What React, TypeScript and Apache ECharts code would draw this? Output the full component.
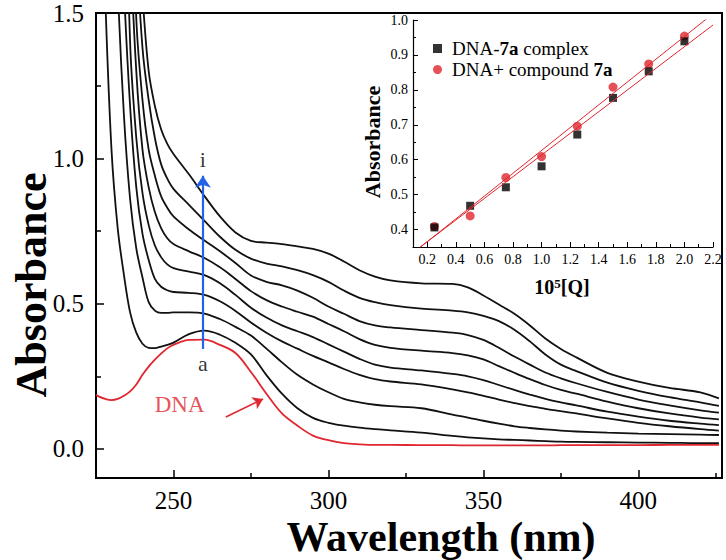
import React, { useEffect, useRef } from 'react';
import * as echarts from 'echarts';

// ---- main spectra (wavelength grid, nm) ----
const WAVELENGTH = [225, 226, 228, 230, 232, 234, 236, 238, 240, 242, 244, 246, 248, 250, 255, 260, 265, 270, 275, 280, 285, 290, 295, 300, 305, 310, 315, 320, 330, 340, 345, 350, 355, 360, 365, 370, 375, 380, 390, 400, 410, 420, 426];

const DNA = [0.186, 0.18, 0.172, 0.168, 0.172, 0.183, 0.198, 0.222, 0.255, 0.283, 0.307, 0.328, 0.346, 0.358, 0.375, 0.376, 0.358, 0.33, 0.265, 0.19, 0.122, 0.08, 0.046, 0.03, 0.02, 0.016, 0.014, 0.014, 0.013, 0.013, 0.012, 0.012, 0.012, 0.012, 0.012, 0.012, 0.013, 0.013, 0.013, 0.013, 0.014, 0.014, 0.014];
const CURVE_B = [null, 2.3, 1.55, 1.03, 0.76, 0.6, 0.47, 0.4, 0.362, 0.348, 0.347, 0.352, 0.358, 0.366, 0.395, 0.407, 0.393, 0.365, 0.325, 0.254, 0.19, 0.14, 0.107, 0.09, 0.08, 0.073, 0.068, 0.064, 0.056, 0.045, 0.04, 0.036, 0.033, 0.031, 0.029, 0.027, 0.025, 0.024, 0.023, 0.022, 0.021, 0.02, 0.02];
const CURVE_C = [null, null, null, 2.3, 1.6, 1.15, 0.86, 0.69, 0.59, 0.505, 0.476, 0.468, 0.468, 0.47, 0.47, 0.466, 0.447, 0.42, 0.39, 0.345, 0.298, 0.255, 0.222, 0.195, 0.172, 0.16, 0.152, 0.147, 0.14, 0.118, 0.108, 0.097, 0.087, 0.078, 0.072, 0.067, 0.063, 0.06, 0.056, 0.053, 0.051, 0.049, 0.048];
const CURVE_D = [null, null, null, null, 2.3, 1.6, 1.18, 0.9, 0.74, 0.65, 0.585, 0.558, 0.546, 0.54, 0.537, 0.53, 0.508, 0.475, 0.435, 0.4, 0.37, 0.345, 0.32, 0.298, 0.275, 0.255, 0.24, 0.232, 0.222, 0.205, 0.195, 0.183, 0.17, 0.158, 0.147, 0.138, 0.13, 0.122, 0.105, 0.09, 0.078, 0.068, 0.063];
const CURVE_E = [null, null, null, null, null, 2.3, 1.4, 1.07, 0.88, 0.77, 0.7, 0.66, 0.635, 0.622, 0.61, 0.598, 0.57, 0.53, 0.486, 0.452, 0.425, 0.405, 0.385, 0.36, 0.335, 0.31, 0.29, 0.28, 0.27, 0.258, 0.25, 0.237, 0.22, 0.203, 0.187, 0.172, 0.16, 0.15, 0.128, 0.111, 0.097, 0.087, 0.082];
const CURVE_F = [null, null, null, null, null, 2.4, 1.75, 1.3, 1.03, 0.9, 0.815, 0.76, 0.725, 0.705, 0.68, 0.657, 0.625, 0.585, 0.543, 0.512, 0.49, 0.472, 0.455, 0.43, 0.405, 0.378, 0.358, 0.348, 0.338, 0.33, 0.322, 0.308, 0.285, 0.262, 0.24, 0.22, 0.203, 0.19, 0.163, 0.14, 0.122, 0.108, 0.102];
const CURVE_G = [null, null, null, null, null, null, 2.2, 1.48, 1.2, 1.03, 0.94, 0.87, 0.83, 0.8, 0.755, 0.717, 0.68, 0.64, 0.597, 0.575, 0.563, 0.545, 0.52, 0.49, 0.465, 0.44, 0.425, 0.418, 0.409, 0.4, 0.392, 0.375, 0.348, 0.318, 0.29, 0.263, 0.243, 0.226, 0.196, 0.17, 0.15, 0.133, 0.125];
const CURVE_H = [null, null, null, null, null, null, 2.4, 1.75, 1.38, 1.2, 1.07, 0.98, 0.93, 0.895, 0.84, 0.785, 0.73, 0.685, 0.655, 0.638, 0.628, 0.615, 0.598, 0.575, 0.545, 0.52, 0.505, 0.495, 0.483, 0.476, 0.47, 0.458, 0.44, 0.41, 0.37, 0.325, 0.29, 0.268, 0.228, 0.2, 0.178, 0.16, 0.148];
const CURVE_I = [null, null, null, null, null, null, null, 1.9, 1.56, 1.3, 1.18, 1.1, 1.05, 1.015, 0.945, 0.87, 0.8, 0.745, 0.716, 0.71, 0.705, 0.697, 0.688, 0.672, 0.645, 0.615, 0.593, 0.58, 0.57, 0.568, 0.556, 0.528, 0.497, 0.465, 0.425, 0.38, 0.344, 0.315, 0.262, 0.232, 0.21, 0.195, 0.174];
const BLACK_CURVES = [CURVE_B, CURVE_C, CURVE_D, CURVE_E, CURVE_F, CURVE_G, CURVE_H, CURVE_I];

// main axis ticks
const X_MAJOR = [250, 300, 350, 400];
const X_MINOR = [275, 325, 375, 425];
const Y_MAJOR = [0, 0.5, 1.0, 1.5];
const Y_MINOR = [0.25, 0.75, 1.25];

// annotations (data coordinates)
const ARROW_BLUE = [[259.5, 0.344], [259.5, 0.94]];
const ARROW_RED = [[266.9, 0.11], [278.9, 0.172]];
const LABELS = [
  { text: 'i', at: [259.5, 0.995], color: '#000' },
  { text: 'a', at: [259.5, 0.293], color: '#000' },
  { text: 'DNA', at: [252.0, 0.152], color: '#e0262e' },
];

// ---- inset ----
const Q = [0.25, 0.5, 0.75, 1.0, 1.25, 1.5, 1.75, 2.0];
const COMPLEX_7A = [0.406, 0.468, 0.521, 0.581, 0.672, 0.777, 0.853, 0.939];
const COMPOUND_7A = [0.409, 0.439, 0.549, 0.609, 0.696, 0.808, 0.874, 0.954];
const INSET_X_MAJOR = [0.2, 0.4, 0.6, 0.8, 1.0, 1.2, 1.4, 1.6, 1.8, 2.0, 2.2];
const INSET_X_MINOR = [0.3, 0.5, 0.7, 0.9, 1.1, 1.3, 1.5, 1.7, 1.9, 2.1];
const INSET_Y_MAJOR = [0.4, 0.5, 0.6, 0.7, 0.8, 0.9, 1.0];
const INSET_Y_MINOR = [0.45, 0.55, 0.65, 0.75, 0.85, 0.95];
const FIT_RANGE = [0.15, 2.2];

const SERIF = '"Liberation Serif", "Times New Roman", serif';
const RED = '#e0262e';
const BLUE = '#2462e6';

function linFit(xs: number[], ys: number[]) {
  const n = xs.length;
  const mx = xs.reduce((a, b) => a + b, 0) / n;
  const my = ys.reduce((a, b) => a + b, 0) / n;
  let sxy = 0, sxx = 0;
  for (let k = 0; k < n; k++) {
    sxy += (xs[k] - mx) * (ys[k] - my);
    sxx += (xs[k] - mx) * (xs[k] - mx);
  }
  const slope = sxy / sxx;
  const icpt = my - slope * mx;
  return FIT_RANGE.map((x) => [x, icpt + slope * x]);
}

export default function App() {
  const ref = useRef<HTMLDivElement>(null);
  useEffect(() => {
    const chart = echarts.init(ref.current as HTMLDivElement, null, { renderer: 'svg' });
    const pairs = (ys: (number | null)[]) =>
      WAVELENGTH.map((w, k) => [w, ys[k]]).filter((p) => p[1] !== null);

    const mainLine = (ys: (number | null)[], color: string, name: string) => ({
      type: 'line',
      name,
      xAxisIndex: 0,
      yAxisIndex: 0,
      data: pairs(ys),
      showSymbol: false,
      symbol: 'none',
      smooth: 0.35,
      lineStyle: { color, width: 1.8 },
      clip: true,
      silent: true,
    });

    const common = { splitLine: { show: false } };
    const line = (show: boolean, width: number) => ({ show, onZero: false, lineStyle: { color: '#000', width } });
    const tick = (length: number, values: number[], width: number) => ({
      show: true, inside: true, length, customValues: values, lineStyle: { color: '#000', width },
    });

    const option: any = {
      animation: false,
      backgroundColor: '#fff',
      grid: [
        { left: 96, top: 13, width: 626, height: 465, show: true, borderColor: '#000', borderWidth: 2, containLabel: false },
        { left: 413, top: 20, width: 300, height: 227, show: false, containLabel: false },
      ],
      xAxis: [
        {
          ...common, gridIndex: 0, type: 'value', min: 225, max: 427, position: 'bottom',
          axisLine: line(true, 2), axisTick: tick(8, X_MAJOR, 1.5),
          axisLabel: { customValues: X_MAJOR, fontSize: 25, fontFamily: SERIF, color: '#000', margin: 10 },
        },
        {
          ...common, gridIndex: 0, type: 'value', min: 225, max: 427, position: 'bottom',
          axisLine: line(false, 1), axisTick: tick(5, X_MINOR, 1.5), axisLabel: { show: false },
        },
        {
          ...common, gridIndex: 1, type: 'value', min: 0.1, max: 2.2, position: 'bottom',
          axisLine: line(true, 1.2), axisTick: tick(5, INSET_X_MAJOR, 1),
          axisLabel: { customValues: INSET_X_MAJOR, fontSize: 14, fontFamily: SERIF, color: '#000', margin: 5, formatter: (v: number) => v.toFixed(1) },
        },
        {
          ...common, gridIndex: 1, type: 'value', min: 0.1, max: 2.2, position: 'bottom',
          axisLine: line(false, 1), axisTick: tick(3, INSET_X_MINOR, 1), axisLabel: { show: false },
        },
      ],
      yAxis: [
        {
          ...common, gridIndex: 0, type: 'value', min: -0.1, max: 1.5, position: 'left',
          axisLine: line(true, 2), axisTick: tick(8, Y_MAJOR, 1.5),
          axisLabel: { customValues: Y_MAJOR, fontSize: 25, fontFamily: SERIF, color: '#000', margin: 12, formatter: (v: number) => v.toFixed(1) },
        },
        {
          ...common, gridIndex: 0, type: 'value', min: -0.1, max: 1.5, position: 'left',
          axisLine: line(false, 1), axisTick: tick(5, Y_MINOR, 1.5), axisLabel: { show: false },
        },
        {
          ...common, gridIndex: 1, type: 'value', min: 0.35, max: 1.0, position: 'left',
          axisLine: line(true, 1.2), axisTick: tick(5, INSET_Y_MAJOR, 1),
          axisLabel: { customValues: INSET_Y_MAJOR, fontSize: 14, fontFamily: SERIF, color: '#000', margin: 5, formatter: (v: number) => v.toFixed(1) },
        },
        {
          ...common, gridIndex: 1, type: 'value', min: 0.35, max: 1.0, position: 'left',
          axisLine: line(false, 1), axisTick: tick(3, INSET_Y_MINOR, 1), axisLabel: { show: false },
        },
      ],
      legend: {
        show: true,
        data: ['DNA-7a complex', 'DNA+ compound 7a'],
        orient: 'vertical',
        left: 428,
        top: 34,
        itemGap: 2,
        itemWidth: 9,
        itemHeight: 9,
        selectedMode: false,
        formatter: (name: string) =>
          name === 'DNA-7a complex' ? '{n|DNA-}{b|7a}{n| complex}' : '{n|DNA+ compound }{b|7a}',
        textStyle: {
          fontFamily: SERIF,
          fontSize: 19,
          color: '#000',
          padding: [0, 0, 0, 5],
          rich: {
            n: { fontFamily: SERIF, fontSize: 19, color: '#000' },
            b: { fontFamily: SERIF, fontSize: 19, fontWeight: 'bold', color: '#000' },
          },
        },
      },
      series: [
        mainLine(DNA, RED, 'DNA spectrum'),
        ...BLACK_CURVES.map((c, k) => mainLine(c, '#111', 'curve ' + 'bcdefghi'[k])),
        {
          type: 'line', name: 'blue arrow', xAxisIndex: 0, yAxisIndex: 0, data: [], silent: true,
          markLine: {
            silent: true, symbol: ['none', 'arrow'], symbolSize: 12, label: { show: false },
            lineStyle: { color: BLUE, width: 2.2, type: 'solid' },
            data: [[{ coord: ARROW_BLUE[0] }, { coord: ARROW_BLUE[1] }]],
          },
        },
        {
          type: 'line', name: 'red arrow', xAxisIndex: 0, yAxisIndex: 0, data: [], silent: true,
          markLine: {
            silent: true, symbol: ['none', 'arrow'], symbolSize: 10, label: { show: false },
            lineStyle: { color: RED, width: 1.6, type: 'solid' },
            data: [[{ coord: ARROW_RED[0] }, { coord: ARROW_RED[1] }]],
          },
        },
        {
          type: 'scatter', name: 'labels', xAxisIndex: 0, yAxisIndex: 0, symbolSize: 0, silent: true,
          data: LABELS.map((l) => ({
            value: l.at, name: l.text,
            label: { show: true, position: 'inside', formatter: l.text, color: l.color, fontSize: l.text === 'DNA' ? 23 : 22, fontFamily: SERIF },
          })),
        },
        {
          type: 'line', name: 'fit complex', xAxisIndex: 2, yAxisIndex: 2, data: linFit(Q, COMPLEX_7A),
          showSymbol: false, symbol: 'none', lineStyle: { color: RED, width: 1 }, clip: true, silent: true,
        },
        {
          type: 'line', name: 'fit compound', xAxisIndex: 2, yAxisIndex: 2, data: linFit(Q, COMPOUND_7A),
          showSymbol: false, symbol: 'none', lineStyle: { color: RED, width: 1 }, clip: true, silent: true,
        },
        {
          type: 'scatter', name: 'DNA+ compound 7a', xAxisIndex: 2, yAxisIndex: 2,
          data: Q.map((q, k) => [q, COMPOUND_7A[k]]), symbol: 'circle', symbolSize: 9,
          itemStyle: { color: RED }, silent: true,
        },
        {
          type: 'scatter', name: 'DNA-7a complex', xAxisIndex: 2, yAxisIndex: 2,
          data: Q.map((q, k) => [q, COMPLEX_7A[k]]), symbol: 'rect', symbolSize: 8,
          itemStyle: { color: '#000' }, silent: true,
        },
      ],
      graphic: [
        {
          type: 'text', x: 31, y: 285, rotation: Math.PI / 2, silent: true,
          style: { text: 'Absorbance', fontFamily: SERIF, fontSize: 44, fontWeight: 'bold', fill: '#000', align: 'center', verticalAlign: 'middle' },
        },
        {
          type: 'text', x: 441, y: 558, silent: true,
          style: { text: 'Wavelength (nm)', fontFamily: SERIF, fontSize: 42, fontWeight: 'bold', fill: '#000', align: 'center', verticalAlign: 'bottom' },
        },
        {
          type: 'text', x: 372, y: 142, rotation: Math.PI / 2, silent: true,
          style: { text: 'Absorbance', fontFamily: SERIF, fontSize: 22, fontWeight: 'bold', fill: '#000', align: 'center', verticalAlign: 'middle' },
        },
        {
          type: 'text', x: 562, y: 287, silent: true,
          style: {
            text: '{b|10}{s|5}{b|[Q]}', align: 'center', verticalAlign: 'middle', fill: '#000',
            rich: {
              b: { fontFamily: SERIF, fontSize: 20, fontWeight: 'bold', fill: '#000', color: '#000' },
              s: { fontFamily: SERIF, fontSize: 13, fontWeight: 'bold', verticalAlign: 'top', fill: '#000', color: '#000' },
            },
          },
        },
      ],
    };
    chart.setOption(option);
    return () => chart.dispose();
  }, []);
  return <div ref={ref} style={{ position: 'fixed', left: 0, top: 0, width: 726, height: 560 }} />;
}
